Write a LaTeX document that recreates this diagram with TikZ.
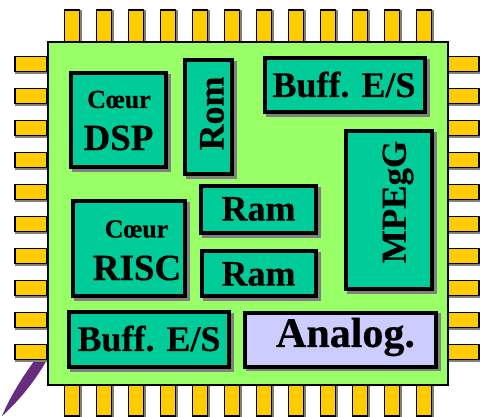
\documentclass[tikz,border=0pt]{standalone}
\usepackage{fontspec}
\setmainfont{Liberation Serif}[BoldFeatures={FakeBold=0.5}]
\definecolor{chipGreen}{HTML}{99FF66}
\definecolor{blockTeal}{HTML}{00CC99}
\definecolor{pinYellow}{HTML}{FFCC00}
\definecolor{analogBlue}{HTML}{CCCCFF}
\definecolor{leadPurple}{HTML}{662D7F}

\begin{document}
\begin{tikzpicture}[x=1pt,y=-1pt]
	\useasboundingbox (0,0) rectangle (480,416);
	\begin{scope}
		[
			stylePin/.style={draw, line width=1.6pt, fill=pinYellow, inner sep=0pt,
				preaction={draw=gray, fill=gray, transform canvas={xshift=1.2pt,yshift=-1.2pt}}},
			stylePinV/.style={stylePin, minimum width=15, minimum height=32},
			stylePinH/.style={stylePin, minimum width=32, minimum height=15},
			styleBlock/.style={draw, line width=4pt, fill=blockTeal, inner sep=0pt,
				preaction={draw=gray, fill=gray, transform canvas={xshift=2.6pt,yshift=-2.6pt}}},
			styleText/.style={font=\bfseries\fontsize{#1}{#1}\selectfont, inner sep=0pt},
		]
		% lead
		\fill[leadPurple] (48,343) .. controls (30,365) and (12,392) .. (2,416)
			.. controls (18,402) and (36,380) .. (48,358) -- cycle;

		% pins
		\foreach \k in {0,...,11}{
			\node(pinTop\k)[stylePinV] at (72+32*\k,26) {};
			\node(pinBottom\k)[stylePinV] at (72+32*\k,400) {};
		}
		\foreach \k in {0,...,9}{
			\node(pinLeft\k)[stylePinH] at (31,64+32*\k) {};
			\node(pinRight\k)[stylePinH] at (463,64+32*\k) {};
		}

		% chip
		\node(chip)[draw, line width=1.6pt, fill=chipGreen, inner sep=0pt,
			minimum width=400, minimum height=343] at (248,213.5) {};

		% blocks
		\node(dsp)[styleBlock, minimum width=95, minimum height=94] at (118.5,120) {};
		\node(rom)[styleBlock, minimum width=47, minimum height=114] at (208.5,117) {};
		\node(buffTop)[styleBlock, minimum width=160, minimum height=54] at (345,85) {};
		\node(mpeg)[styleBlock, minimum width=86, minimum height=158] at (389,210) {};
		\node(ramTop)[styleBlock, minimum width=115, minimum height=47] at (258.5,209.5) {};
		\node(ramBottom)[styleBlock, minimum width=114, minimum height=45] at (259,273.5) {};
		\node(risc)[styleBlock, minimum width=112, minimum height=95] at (129,248.5) {};
		\node(buffBottom)[styleBlock, minimum width=160, minimum height=55] at (149,339.5) {};
		\node(analog)[styleBlock, fill=analogBlue, minimum width=191, minimum height=54] at (340.5,339.5) {};

		% texts
		\node(txtCoeurDsp)[styleText=26] at (119,99.5) {Cœur};
		\node(txtDsp)[styleText=37] at (118.5,138) {DSP};
		\node(txtRom)[styleText=36, rotate=90] at (212,113.5) {Rom};
		\node(txtBuffTop)[styleText=36] at (344,84.5) {Buff. E/S};
		\node(txtMpeg)[styleText=35, rotate=90] at (398,202) {MPEgG};
		\node(txtRamTop)[styleText=36] at (258.5,209) {Ram};
		\node(txtRamBottom)[styleText=36] at (258.5,274) {Ram};
		\node(txtCoeurRisc)[styleText=26] at (136.5,229) {Cœur};
		\node(txtRisc)[styleText=37] at (137,268) {RISC};
		\node(txtBuffBottom)[styleText=36] at (149,338.5) {Buff. E/S};
		\node(txtAnalog)[styleText=42] at (345.5,337) {Analog.};
	\end{scope}
\end{tikzpicture}
\end{document}
